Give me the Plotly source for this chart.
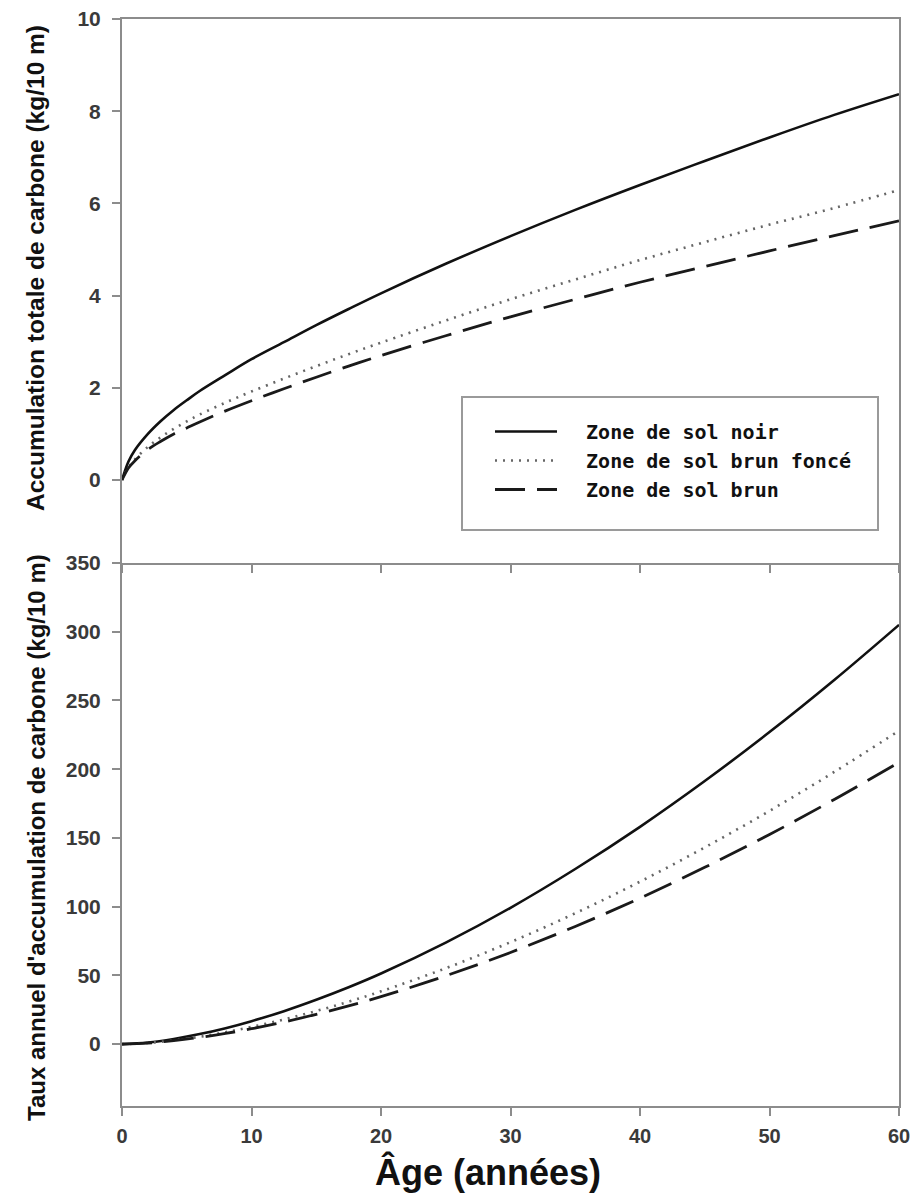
import plotly.graph_objects as go

# ---- data ----
age_total = [0, 0.5, 1, 2, 3, 4, 5, 6, 8, 10, 12.5, 15, 17.5, 20, 25, 30, 35, 40, 45, 50, 55, 60]
noir_total = [0, 0.40, 0.65, 1.00, 1.28, 1.52, 1.73, 1.93, 2.28, 2.62, 2.99, 3.36, 3.71, 4.05, 4.69, 5.29, 5.86, 6.40, 6.92, 7.43, 7.92, 8.37]
brun_fonce_total = [0, 0.28, 0.45, 0.72, 0.93, 1.11, 1.27, 1.42, 1.68, 1.92, 2.20, 2.47, 2.73, 2.98, 3.46, 3.92, 4.35, 4.77, 5.16, 5.54, 5.90, 6.29]
brun_total = [0, 0.26, 0.42, 0.66, 0.84, 1.00, 1.13, 1.26, 1.50, 1.72, 1.98, 2.23, 2.47, 2.70, 3.13, 3.54, 3.92, 4.29, 4.63, 4.97, 5.30, 5.62]

age_rate = [0, 2, 4, 6, 8, 10, 12.5, 15, 17.5, 20, 25, 30, 35, 40, 45, 50, 55, 60]
noir_rate = [0, 1.2, 3.8, 7.3, 11.6, 16.7, 24.0, 32.3, 41.4, 51.4, 73.9, 99.2, 127.4, 158.1, 191.4, 227.0, 264.9, 305]
brun_fonce_rate = [0, 0.9, 2.8, 5.4, 8.7, 12.5, 17.9, 24.1, 30.9, 38.4, 55.2, 74.2, 95.2, 118.2, 143.1, 169.7, 198.0, 228]
brun_rate = [0, 0.8, 2.6, 4.9, 7.8, 11.2, 16.1, 21.7, 27.8, 34.5, 49.7, 66.7, 85.6, 106.2, 128.6, 152.5, 178.0, 205]

names = ["Zone de sol noir", "Zone de sol brun foncé", "Zone de sol brun"]
x_ticks = [0, 10, 20, 30, 40, 50, 60]
top_ticks = [0, 2, 4, 6, 8, 10]
bottom_ticks = [0, 50, 100, 150, 200, 250, 300, 350]

styles = [
    dict(color="#111111", width=2.6, dash="solid"),
    dict(color="#666666", width=2.6, dash="2px,6px"),
    dict(color="#1a1a1a", width=2.8, dash="30px,12px"),
]

NBSP = "\u00a0"

fig = go.Figure()
for name, ys, st in zip(names, [noir_total, brun_fonce_total, brun_total], styles):
    fig.add_trace(go.Scatter(x=age_total, y=ys, mode="lines", name=NBSP * 2 + name,
                             line=dict(shape="spline", **st),
                             xaxis="x", yaxis="y", showlegend=True))
for name, ys, st in zip(names, [noir_rate, brun_fonce_rate, brun_rate], styles):
    fig.add_trace(go.Scatter(x=age_rate, y=ys, mode="lines", name=name,
                             line=dict(shape="spline", **st),
                             xaxis="x2", yaxis="y2", showlegend=False))

y_tick_font = dict(family="Liberation Sans, Arial, sans-serif", size=21, color="#3a3a3a", weight="bold")
x_tick_font = dict(family="Liberation Sans, Arial, sans-serif", size=20, color="#3a3a3a", weight="bold")

def axis_style(mirror=True, font=y_tick_font):
    return dict(showline=True, linecolor="#8c8c8c", linewidth=2, mirror=mirror,
                ticks="outside", ticklen=8, tickwidth=1.5, tickcolor="#8c8c8c",
                showgrid=False, zeroline=False, automargin=False, tickfont=font)

split = (1106 - 563) / 1087

fig.update_layout(
    width=912, height=1200,
    margin=dict(l=122, r=13, t=19, b=94),
    paper_bgcolor="white", plot_bgcolor="white",
    xaxis=dict(domain=[0, 1], anchor="y", range=[0, 60], tickvals=x_ticks,
               showticklabels=False, **axis_style(True, x_tick_font)),
    yaxis=dict(domain=[split, 1], anchor="x", range=[-1.8, 10], tickvals=top_ticks,
               ticklabelstandoff=7, **axis_style(True)),
    xaxis2=dict(domain=[0, 1], anchor="y2", range=[0, 60], tickvals=x_ticks,
                ticklabelstandoff=3, **axis_style(False, x_tick_font)),
    yaxis2=dict(domain=[0, split], anchor="x2", range=[-45, 350], tickvals=bottom_ticks,
                ticklabelstandoff=7, **axis_style(True)),
    legend=dict(x=(490 - 122) / 777, y=(1106 - 412) / 1087, xanchor="left", yanchor="top",
                bgcolor="rgba(0,0,0,0)", borderwidth=0, itemwidth=62,
                font=dict(family="DejaVu Sans Mono, monospace", size=20, color="#111111",
                          weight="bold")),
    showlegend=True,
)

# legend frame
fig.add_shape(type="rect", xref="paper", yref="paper",
              x0=(462 - 122) / 777, x1=(878 - 122) / 777,
              y0=(1106 - 530) / 1087, y1=(1106 - 397) / 1087,
              line=dict(color="#9a9a9a", width=2), fillcolor="rgba(0,0,0,0)", layer="below")

title_font = dict(family="Liberation Sans, Arial, sans-serif", size=24.5, color="#111111", weight="bold")
fig.add_annotation(text="Accumulation totale de carbone (kg/10 m)", textangle=-90,
                   xref="paper", yref="paper", x=(35 - 122) / 777, y=(1106 - 268) / 1087,
                   xanchor="center", yanchor="middle", showarrow=False, font=title_font)
fig.add_annotation(text="Taux annuel d'accumulation de carbone (kg/10 m)", textangle=-90,
                   xref="paper", yref="paper", x=(36 - 122) / 777, y=(1106 - 838) / 1087,
                   xanchor="center", yanchor="middle", showarrow=False,
                   font=dict(title_font, size=24))
fig.add_annotation(text="Âge (années)", xref="paper", yref="paper",
                   x=(488 - 122) / 777, y=(1106 - 1172) / 1087,
                   xanchor="center", yanchor="middle", showarrow=False,
                   font=dict(family="Liberation Sans, Arial, sans-serif",
                             size=36, color="#111111", weight="bold"))

fig.write_html("out.html", config={"displayModeBar": False},
               post_script="document.body.style.margin='0';document.body.style.overflow='hidden';")
